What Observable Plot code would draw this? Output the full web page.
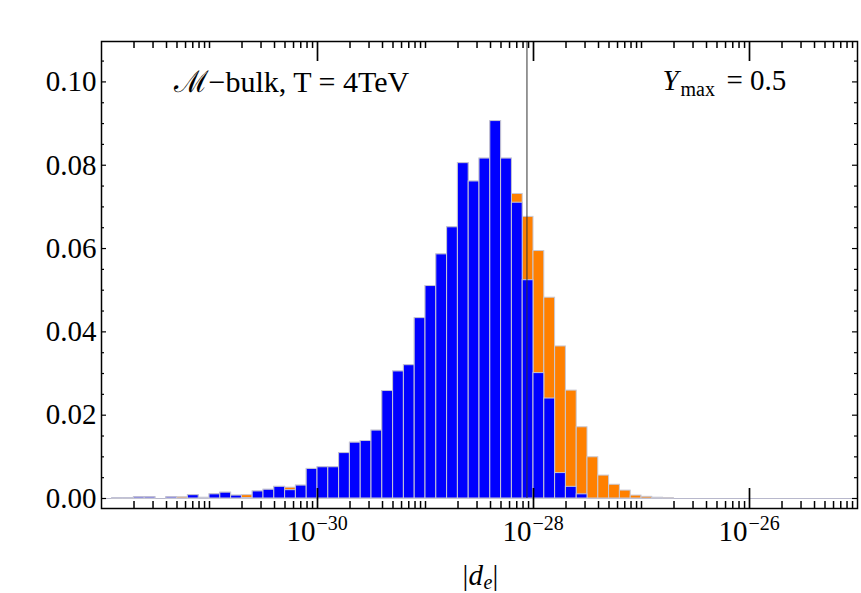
<!DOCTYPE html>
<html>
<head>
<meta charset="utf-8">
<script src="https://cdn.jsdelivr.net/npm/d3@7"></script>
<script src="https://cdn.jsdelivr.net/npm/@observablehq/plot@0.6"></script>
<style>
  body { margin: 0; background: #fff; }
  #chart svg { display: block; }
</style>
</head>
<body>
<div id="chart"></div>
<script>
// ---- data (log10 bins of width 0.1, starting at 10^-32) ----
const binStartExp = -32;
const binWidthExp = 0.1;
// blue subset (fraction per bin)
const blueValues = [
  0, 0.0001, 0.0001, 0.0003, 0.0003, 0, 0.0003, 0, 0.0008, 0,
  0.0010, 0.0014, 0.0007, 0.0001, 0.0017, 0.0021, 0.0028, 0.0020, 0.0031, 0.0071,
  0.0075, 0.0075, 0.0109, 0.0134, 0.0138, 0.0163, 0.0258, 0.0305, 0.0320, 0.0433,
  0.0510, 0.0586, 0.0651, 0.0805, 0.0761, 0.0816, 0.0906, 0.0816, 0.0710, 0.0524,
  0.0301, 0.0240, 0.0061, 0.0028, 0.0010, 0, 0, 0, 0, 0,
  0, 0, 0
];
// orange total (fraction per bin)
const orangeValues = [
  0, 0.0001, 0.0001, 0.0003, 0.0003, 0, 0.0003, 0.0003, 0.0008, 0.0002,
  0.0010, 0.0014, 0.0007, 0.0008, 0.0017, 0.0021, 0.0028, 0.0026, 0.0031, 0.0071,
  0.0075, 0.0075, 0.0109, 0.0134, 0.0138, 0.0163, 0.0258, 0.0305, 0.0320, 0.0433,
  0.0510, 0.0586, 0.0651, 0.0805, 0.0761, 0.0816, 0.0906, 0.0816, 0.0731, 0.0676,
  0.0594, 0.0482, 0.0365, 0.0259, 0.0171, 0.0099, 0.0055, 0.0033, 0.0019, 0.0007,
  0.0004, 0.0002, 0.0001
];
const cutValue = 8.7e-29;            // vertical reference line
const xDomain = [1e-32, 1e-25];
const yDomain = [-0.0024, 0.1097];
const xMajorExps = [-30, -28, -26];  // labelled decades
const yMajorTicks = [0, 0.02, 0.04, 0.06, 0.08, 0.10];
const yTickLabels = ["0.00", "0.02", "0.04", "0.06", "0.08", "0.10"];
const title1 = "ℳ−bulk, T = 4TeV";
const title2 = ["Y", "max", "= 0.5"];

// ---- derived tables ----
const bins = blueValues.map((b, k) => ({
  lo: 10 ** (binStartExp + k * binWidthExp),
  hi: 10 ** (binStartExp + (k + 1) * binWidthExp),
  blue: b,
  orange: orangeValues[k]
}));

const W = 861, H = 593, mL = 101, mR = 4, mT = 41, mB = 85;
const plotH = H - mT - mB, plotW = W - mL - mR;
const yPerPx = (yDomain[1] - yDomain[0]) / plotH;
const decPerPx = (Math.log10(xDomain[1]) - Math.log10(xDomain[0])) / plotW;

const xMinor = [];
for (let e = -32; e <= -26; e++) {
  for (let m = 1; m <= 9; m++) {
    if (m === 1 && xMajorExps.includes(e)) continue;
    const v = m * 10 ** e;
    if (v <= xDomain[0] * 1.0001 || v >= xDomain[1] * 0.9999) continue;
    xMinor.push(v);
  }
}
const xMajor = xMajorExps.map(e => 10 ** e);
const yMinor = [];
for (let i = 1; i <= 21; i++) {
  const v = +(i * 0.005).toFixed(3);
  if (i % 4 === 0) continue;
  yMinor.push(v);
}

const majLenX = 20, minLenX = 7, majLenY = 5, minLenY = 3;
const black = "#000";
const font = "'Liberation Serif', 'Times New Roman', serif";
const fs = 29, fsSmall = 20;

const xLeftIn = len => 10 ** (Math.log10(xDomain[0]) + len * decPerPx);
const xRightIn = len => 10 ** (Math.log10(xDomain[1]) - len * decPerPx);

const xLabData = xMajorExps.map(e => ({x: 10 ** e, y: yDomain[0], base: "10", sup: "−" + Math.abs(e)}));
const yLabData = yMajorTicks.map((v, i) => ({x: xDomain[0], y: v, t: yTickLabels[i]}));

const t1Pos = {x: 10 ** (-32 + (173 - mL) * decPerPx), y: 0.0975};
const t2Pos = {x: 10 ** (-32 + (662 - mL) * decPerPx), y: 0.098};
const xLabPos = {x: 10 ** -28.5, y: yDomain[0]};

const chart = Plot.plot({
  width: W, height: H,
  marginLeft: mL, marginRight: mR, marginTop: mT, marginBottom: mB,
  style: {fontFamily: font, background: "#fff", overflow: "visible"},
  x: {type: "log", domain: xDomain, axis: null},
  y: {domain: yDomain, axis: null},
  marks: [
    Plot.ruleY([0], {stroke: "#b8b8cc", strokeWidth: 1}),
    Plot.rectY(bins.filter(d => d.orange > 0), {x1: "lo", x2: "hi", y1: 0, y2: "orange", fill: "#ff8000", stroke: "#c8c8d4", strokeWidth: 1}),
    Plot.rectY(bins.filter(d => d.blue > 0), {x1: "lo", x2: "hi", y1: 0, y2: "blue", fill: "#0000ff", stroke: "#c8c8d4", strokeWidth: 1}),
    Plot.ruleX([cutValue], {y1: 0, y2: yDomain[1], stroke: "#333", strokeWidth: 1}),
    Plot.frame({stroke: black, strokeWidth: 1.5}),
    // x ticks bottom & top
    Plot.ruleX(xMinor, {x: d => d, y1: yDomain[0], y2: yDomain[0] + minLenX * yPerPx, stroke: black, strokeWidth: 1.5}),
    Plot.ruleX(xMinor, {x: d => d, y1: yDomain[1] - minLenX * yPerPx, y2: yDomain[1], stroke: black, strokeWidth: 1.5}),
    Plot.ruleX(xMajor, {x: d => d, y1: yDomain[0], y2: yDomain[0] + majLenX * yPerPx, stroke: black, strokeWidth: 1.7}),
    Plot.ruleX(xMajor, {x: d => d, y1: yDomain[1] - majLenX * yPerPx, y2: yDomain[1], stroke: black, strokeWidth: 1.7}),
    // y ticks left & right
    Plot.ruleY(yMinor, {y: d => d, x1: xDomain[0], x2: xLeftIn(minLenY), stroke: black, strokeWidth: 1.2}),
    Plot.ruleY(yMinor, {y: d => d, x1: xRightIn(minLenY), x2: xDomain[1], stroke: black, strokeWidth: 1.2}),
    Plot.ruleY(yMajorTicks, {y: d => d, x1: xDomain[0], x2: xLeftIn(majLenY), stroke: black, strokeWidth: 1.2}),
    Plot.ruleY(yMajorTicks, {y: d => d, x1: xRightIn(majLenY), x2: xDomain[1], stroke: black, strokeWidth: 1.2}),
    // y tick labels
    Plot.text(yLabData, {x: "x", y: "y", text: "t", textAnchor: "end", lineAnchor: "middle", dx: -5, fontSize: fs, fontFamily: font, fill: black}),
    // x tick labels 10^-n
    Plot.text(xLabData, {x: "x", y: "y", text: "base", textAnchor: "end", lineAnchor: "middle", dx: -2, dy: 23, fontSize: fs, fontFamily: font, fill: black}),
    Plot.text(xLabData, {x: "x", y: "y", text: "sup", textAnchor: "start", lineAnchor: "middle", dx: -1, dy: 15, fontSize: fsSmall, fontFamily: font, fill: black}),
    // annotations
    Plot.text([t1Pos], {x: "x", y: "y", text: () => title1, textAnchor: "start", lineAnchor: "bottom", fontSize: 30, fontFamily: font, fill: black}),
    Plot.text([t2Pos], {x: "x", y: "y", text: () => title2[0], textAnchor: "start", lineAnchor: "bottom", fontSize: fs, fontStyle: "italic", fontFamily: font, fill: black}),
    Plot.text([t2Pos], {x: "x", y: "y", text: () => title2[1], textAnchor: "start", lineAnchor: "bottom", dx: 18, dy: 6, fontSize: fsSmall, fontFamily: font, fill: black}),
    Plot.text([t2Pos], {x: "x", y: "y", text: () => title2[2], textAnchor: "start", lineAnchor: "bottom", dx: 64, fontSize: fs, fontFamily: font, fill: black}),
    // x axis label |d_e|
    Plot.text([xLabPos], {x: "x", y: "y", text: () => "|", textAnchor: "start", lineAnchor: "bottom", dx: -17, dy: 76, fontSize: fs, fontFamily: font, fill: black}),
    Plot.text([xLabPos], {x: "x", y: "y", text: () => "d", textAnchor: "start", lineAnchor: "bottom", dx: -11, dy: 76, fontSize: fs, fontStyle: "italic", fontFamily: font, fill: black}),
    Plot.text([xLabPos], {x: "x", y: "y", text: () => "e", textAnchor: "start", lineAnchor: "bottom", dx: 4, dy: 80, fontSize: fsSmall, fontStyle: "italic", fontFamily: font, fill: black}),
    Plot.text([xLabPos], {x: "x", y: "y", text: () => "|", textAnchor: "start", lineAnchor: "bottom", dx: 13, dy: 76, fontSize: fs, fontFamily: font, fill: black})
  ]
});
document.getElementById("chart").appendChild(chart);
</script>
</body>
</html>
